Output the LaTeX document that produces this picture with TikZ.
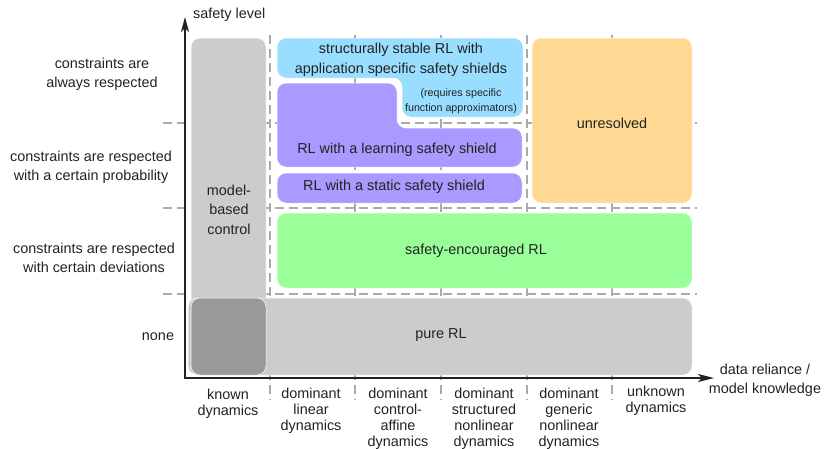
\documentclass[tikz,border=0pt]{standalone}
\usepackage{fontspec}
\setmainfont{Liberation Sans}
\usetikzlibrary{arrows.meta}
\definecolor{ink}{HTML}{222222}
\definecolor{gridgray}{HTML}{AAAAAA}
\definecolor{boxgray}{HTML}{CCCCCC}
\definecolor{overlapgray}{HTML}{999999}
\definecolor{skyblue}{HTML}{99DDFF}
\definecolor{lavender}{HTML}{AA99FF}
\definecolor{mint}{HTML}{99FF99}
\definecolor{apricot}{HTML}{FFD994}

\begin{document}
\begin{tikzpicture}[x=1pt,y=-1pt,
  gridline/.style={draw=gridgray, line width=1.3pt, dash pattern=on 9pt off 5pt},
  region/.style={rounded corners=9pt, draw=white, line width=0.5pt},
  regionbox/.style={region, rectangle, inner sep=0pt, outer sep=0pt},
  txt/.style={font=\fontsize{14.4}{19.5}\selectfont, text=ink, align=center, inner sep=0pt},
  coltxt/.style={txt, font=\fontsize{14.4}{16}\selectfont, anchor=north},
  smalltxt/.style={font=\fontsize{10.7}{15}\selectfont, text=ink, align=center, inner sep=0pt},
  axis/.style={draw=ink, line width=1.3pt, {Stealth[length=15pt,width=8pt,inset=4pt]}-{Stealth[length=16pt,width=8pt,inset=4pt]}}
]
\useasboundingbox (0,0) rectangle (824,448);

% dashed grid: row and column boundaries
\foreach \yy in {123,208,294}
  \draw[gridline] (163,\yy) -- (697,\yy);
\foreach \xx in {270,355,441,527,612}
  \draw[gridline] (\xx,35) -- (\xx,400);

% regions
\node[regionbox, fill=boxgray, minimum width=75pt, minimum height=337pt] (mbc) at (228.5,206.5) {};
\node[regionbox, fill=boxgray, minimum width=504pt, minimum height=77pt] (pure) at (440,336.5) {};
\node[regionbox, fill=overlapgray, minimum width=75pt, minimum height=77pt] (overlap) at (228.5,336.5) {};
\node[regionbox, fill=mint, minimum width=415pt, minimum height=75pt] (encouraged) at (484.5,250.5) {};
\node[regionbox, fill=apricot, minimum width=160pt, minimum height=165pt] (unres) at (612,120.5) {};
\node[regionbox, fill=lavender, minimum width=245pt, minimum height=30pt] (static) at (399.5,188) {};
\path[region, fill=skyblue] (277,38) -- (523,38) -- (523,117) -- (402,117) -- (402,78) -- (277,78) -- cycle;
\path[region, fill=lavender] (277,83) -- (397,83) -- (397,128) -- (522,128) -- (522,167) -- (277,167) -- cycle;

% region labels
\node[txt, anchor=north] (mbctext) at (229,184.5) {model-\\based\\control};
\node[txt] (puretext) at (441,335) {pure RL};
\node[txt] (enctext) at (476,251) {safety-encouraged RL};
\node[txt] (unrestext) at (612,123) {unresolved};
\node[txt] (statictext) at (394,187) {RL with a static safety shield};
\node[txt] (learntext) at (397,150) {RL with a learning safety shield};
\node[txt, anchor=north, font=\fontsize{14.4}{20}\selectfont] (stabletext) at (401,42.5) {structurally stable RL with\\application specific safety shields};
\node[smalltxt, anchor=north] (approxtext) at (461,88.5) {(requires specific\\function approximators)};

% axes
\coordinate (origin) at (185,378);
\coordinate (ytip) at (185,17);
\coordinate (xtip) at (714,378);
\draw[axis] (ytip) -- (origin) -- (xtip);
\node[txt, anchor=west] (ylabel) at (193,15) {safety level};
\node[txt, anchor=north] (xlabel) at (765,363.5) {data reliance /\\model knowledge};

% safety levels
\node[txt, anchor=north] (lvlalways) at (102,57.5) {constraints are\\always respected};
\node[txt, anchor=north] (lvlprob) at (91,150.5) {constraints are respected\\with a certain probability};
\node[txt, anchor=north] (lvldev) at (94,242.5) {constraints are respected\\with certain deviations};
\node[txt] (lvlnone) at (158,337) {none};

% model knowledge classes
\node[coltxt] (colknown) at (228,388.5) {known\\dynamics};
\node[coltxt] (collinear) at (311,387.5) {dominant\\linear\\dynamics};
\node[coltxt] (colaffine) at (398,387.5) {dominant\\control-\\affine\\dynamics};
\node[coltxt] (colstruct) at (484,387.5) {dominant\\structured\\nonlinear\\dynamics};
\node[coltxt] (colgeneric) at (569,387.5) {dominant\\generic\\nonlinear\\dynamics};
\node[coltxt] (colunknown) at (656,385.5) {unknown\\dynamics};
\end{tikzpicture}
\end{document}
